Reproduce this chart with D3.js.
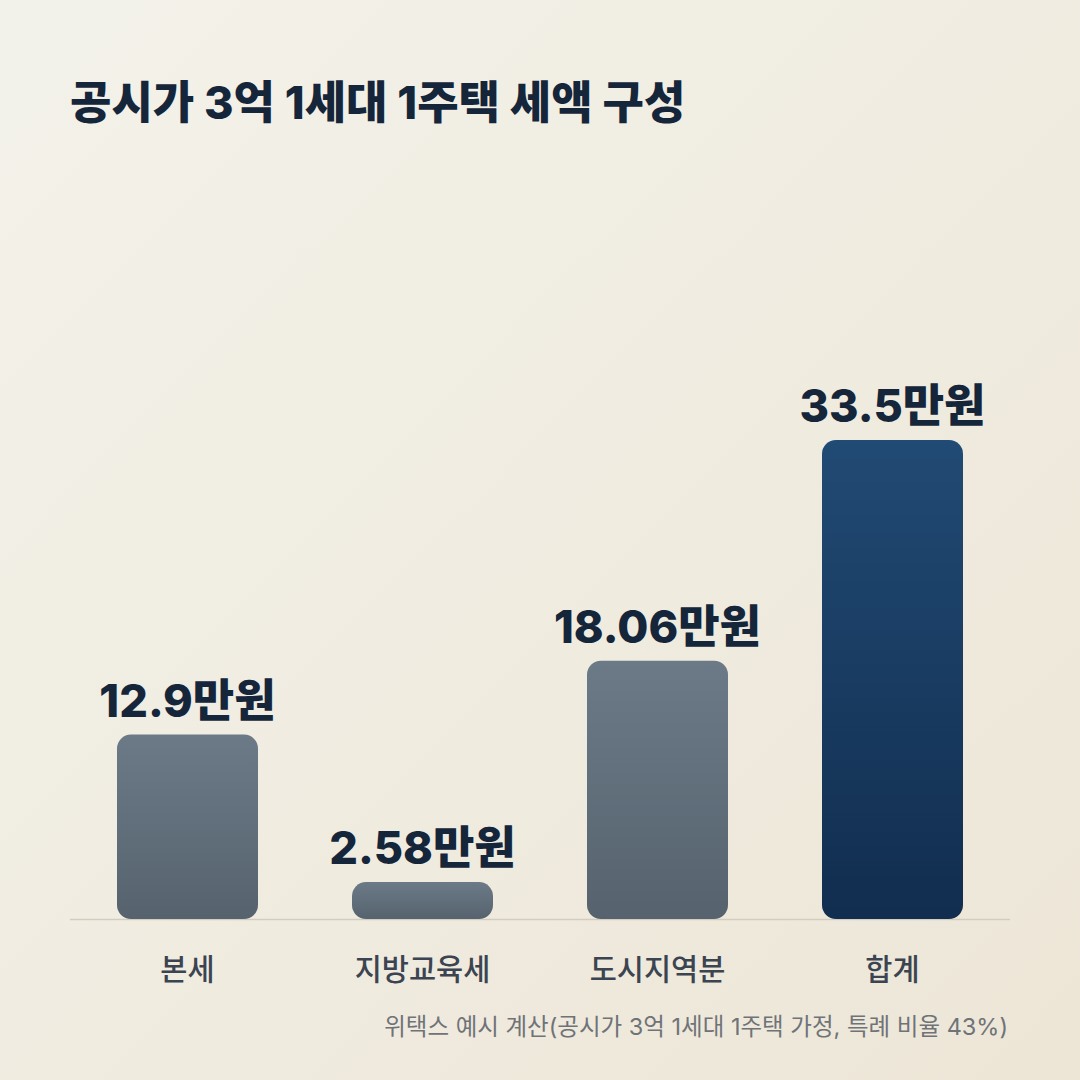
<!DOCTYPE html>
<html><head><meta charset="utf-8">
<script src="https://cdn.jsdelivr.net/npm/d3@7/dist/d3.min.js"></script>
<style>
html,body{margin:0;padding:0;}
body{width:1080px;height:1080px;overflow:hidden;}
</style></head>
<body>
<svg id="chart" width="1080" height="1080"></svg>
<script>
const categories = ["본세", "지방교육세", "도시지역분", "합계"];
const values = [12.9, 2.58, 18.06, 33.5];
const valueLabels = ["12.9만원", "2.58만원", "18.06만원", "33.5만원"];
const highlight = [false, false, false, true];
const title = "공시가 3억 1세대 1주택 세액 구성";
const footnote = "위택스 예시 계산(공시가 3억 1세대 1주택 가정, 특례 비율 43%)";

const FONT = "Inter, 'Noto Sans CJK KR', sans-serif";
const svg = d3.select("#chart");
const defs = svg.append("defs");

const bg = defs.append("linearGradient").attr("id","bg").attr("x1","0").attr("y1","0").attr("x2","1").attr("y2","1");
bg.append("stop").attr("offset","0%").attr("stop-color","#f3f2ea");
bg.append("stop").attr("offset","100%").attr("stop-color","#ede6d7");

const gGrey = defs.append("linearGradient").attr("id","gGrey").attr("x1","0").attr("y1","0").attr("x2","0").attr("y2","1");
gGrey.append("stop").attr("offset","0%").attr("stop-color","#6c7a87");
gGrey.append("stop").attr("offset","100%").attr("stop-color","#56636f");

const gNavy = defs.append("linearGradient").attr("id","gNavy").attr("x1","0").attr("y1","0").attr("x2","0").attr("y2","1");
gNavy.append("stop").attr("offset","0%").attr("stop-color","#214a74");
gNavy.append("stop").attr("offset","100%").attr("stop-color","#112d4f");

svg.append("rect").attr("width",1080).attr("height",1080).attr("fill","url(#bg)");

svg.append("text").attr("x",70).attr("y",119)
  .attr("font-family",FONT).attr("font-weight",800).attr("font-size",45)
  .attr("fill","#15263b").text(title);

const x = d3.scaleBand().domain(categories).range([70,1010]).paddingInner(0.4).paddingOuter(0.2);
const y = d3.scaleLinear().domain([0,33.5]).range([919,440]);

svg.append("line").attr("x1",70).attr("x2",1010).attr("y1",919.5).attr("y2",919.5)
  .attr("stroke","#d2cdc0").attr("stroke-width",1.5);

const g = svg.append("g");
g.selectAll("rect.bar").data(values).join("rect").attr("class","bar")
  .attr("x",(d,i)=>x(categories[i]))
  .attr("y",d=>y(d))
  .attr("width",x.bandwidth())
  .attr("height",d=>y(0)-y(d))
  .attr("rx",14).attr("ry",14)
  .attr("fill",(d,i)=>highlight[i]?"url(#gNavy)":"url(#gGrey)");

g.selectAll("text.val").data(values).join("text").attr("class","val")
  .attr("x",(d,i)=>x(categories[i])+x.bandwidth()/2)
  .attr("y",d=>y(d)-18)
  .attr("text-anchor","middle")
  .attr("font-family",FONT).attr("font-weight",800).attr("font-size",45)
  .attr("fill","#15263b")
  .text((d,i)=>valueLabels[i]);

const xAxis = d3.axisBottom(x).tickSize(0).tickPadding(0);
const ax = svg.append("g").attr("transform","translate(0,980)").call(xAxis);
ax.select(".domain").remove();
ax.selectAll("text").attr("font-family",FONT).attr("font-weight",500).attr("font-size",29.5)
  .attr("fill","#3b4450").attr("dy",0).attr("y",0);

svg.append("text").attr("x",1008).attr("y",1035).attr("text-anchor","end")
  .attr("font-family",FONT).attr("font-weight",400).attr("font-size",23.5)
  .attr("fill","#6f7378").text(footnote);
</script>
</body></html>
